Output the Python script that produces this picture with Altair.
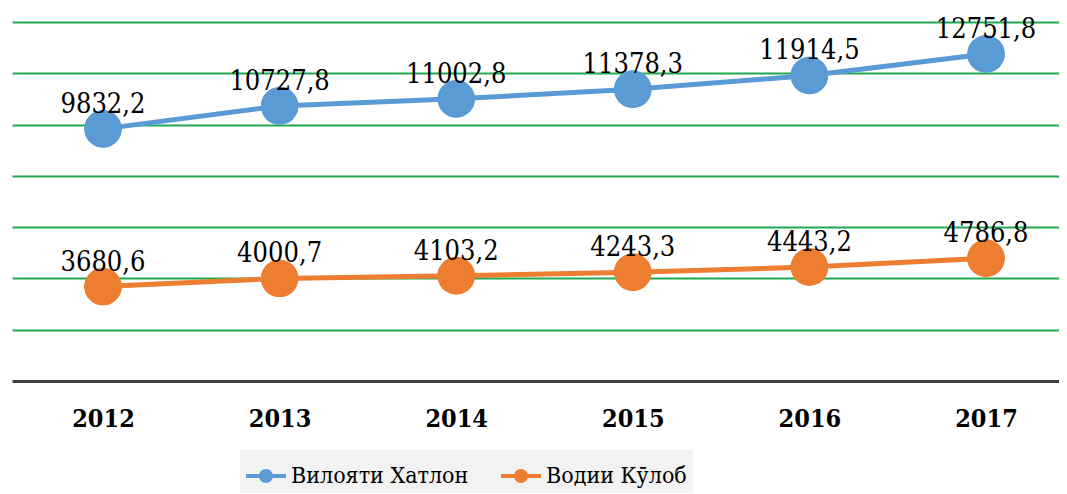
import altair as alt
import pandas as pd

years = [2012, 2013, 2014, 2015, 2016, 2017]
series_names = ["Вилояти Хатлон", "Водии Кӯлоб"]
hatlon = [9832.2, 10727.8, 11002.8, 11378.3, 11914.5, 12751.8]
kulob = [3680.6, 4000.7, 4103.2, 4243.3, 4443.2, 4786.8]
colors = ["#5b9bd5", "#ed7d31"]

rows = []
for name, vals in zip(series_names, [hatlon, kulob]):
    for y, v in zip(years, vals):
        rows.append({"year": y, "value": v, "series": name,
                     "label": f"{v:.1f}".replace(".", ",")})
df = pd.DataFrame(rows)

SERIF = "DejaVu Serif Condensed"

sym_path = ("M-1,-0.1L1,-0.1L1,0.1L-1,0.1Z "
            "M0.35,0A0.35,0.35,0,1,1,-0.35,0A0.35,0.35,0,1,1,0.35,0Z")

color = alt.Color(
    "series:N",
    scale=alt.Scale(domain=series_names, range=colors),
    legend=alt.Legend(
        title=None, orient="none", direction="horizontal",
        legendX=228, legendY=428, padding=6, fillColor="#f2f2f2",
        symbolType=sym_path, symbolSize=1600, symbolStrokeWidth=0,
        labelFont=SERIF, labelFontSize=23, labelColor="#000000",
        labelOffset=5, columnPadding=32, symbolOpacity=1, labelLimit=0,
    ),
)

x = alt.X(
    "year:Q",
    scale=alt.Scale(domain=[2011.4847, 2017.4133], nice=False, zero=False),
    axis=alt.Axis(
        title=None, values=years, format="d", grid=False, ticks=False,
        domainColor="#404040", domainWidth=3,
        labelFont=SERIF, labelFontSize=25, labelFontWeight="bold",
        labelColor="#000000", labelPadding=25, labelFlush=False,
    ),
)
y = alt.Y(
    "value:Q",
    scale=alt.Scale(domain=[0, 14000], nice=False),
    axis=alt.Axis(
        title=None, values=[2000, 4000, 6000, 8000, 10000, 12000, 14000],
        labels=False, ticks=False, domain=False,
        grid=True, gridColor="#1faa4f", gridWidth=2,
    ),
)

base = alt.Chart(df).encode(x=x, y=y)

points = base.mark_point(filled=True, size=1400, opacity=1).encode(color=color)
lines = base.mark_line(strokeWidth=5).encode(color=color)
texts = base.mark_text(
    font=SERIF, fontSize=27, color="#000000",
    baseline="alphabetic", dy=-16,
).encode(text="label:N")

chart = alt.layer(points, lines, points, texts).properties(
    width=1047, height=359,
    autosize=alt.AutoSizeParams(type="none"),
    padding={"left": 4, "top": 14, "right": 0, "bottom": 112},
).configure_view(stroke=None)

chart.save("out.html", embed_options={"renderer": "svg", "actions": False})
